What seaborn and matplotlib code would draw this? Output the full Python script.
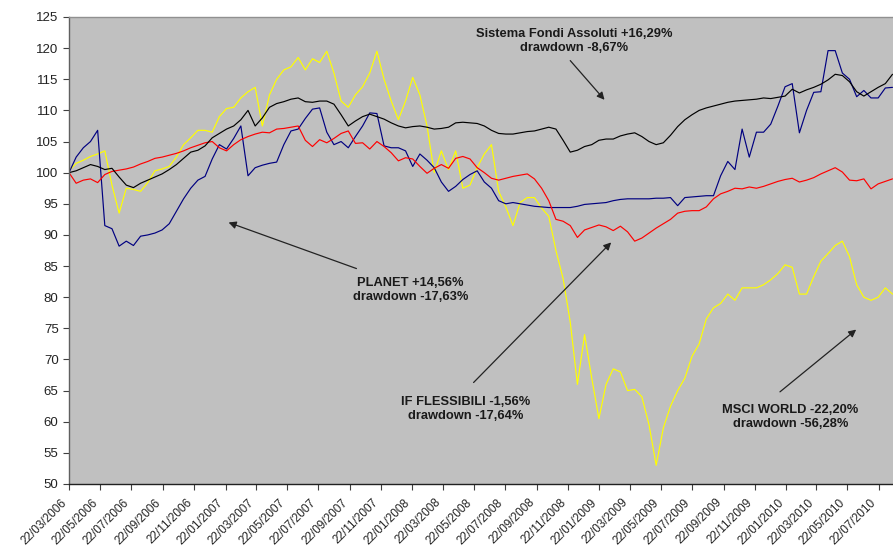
import pandas as pd
import numpy as np
import matplotlib
matplotlib.use('Agg')
import matplotlib.pyplot as plt
import matplotlib.dates as mdates
import matplotlib.transforms as mtransforms
import seaborn as sns

# Index values (base 100 on 22/03/2006), sampled every 14 days
dates = pd.date_range('2006-03-22', periods=116, freq='14D')

sistema_fondi = [
    100, 100.3, 100.8, 101.3, 101, 100.5, 100.7, 99.3, 98, 97.6,
    98.3, 98.8, 99.3, 99.8, 100.5, 101.3, 102.3, 103.3, 103.6, 104.3,
    105.6, 106.3, 107, 107.5, 108.5, 110, 107.5, 108.8, 110.5, 111.1,
    111.4, 111.8, 112, 111.4, 111.3, 111.5, 111.5, 111, 109.3, 107.5,
    108.3, 109, 109.4, 109, 108.6, 108, 107.5, 107.2, 107.4, 107.5,
    107.3, 107, 107.1, 107.3, 108, 108.1, 108, 107.9, 107.5, 106.8,
    106.3, 106.2, 106.2, 106.4, 106.6, 106.7, 107, 107.3, 107, 105.2,
    103.3, 103.6, 104.2, 104.5, 105.2, 105.4, 105.4, 105.9, 106.2, 106.4,
    105.8, 105, 104.5, 104.8, 106, 107.4, 108.5, 109.3, 110, 110.4,
    110.7, 111, 111.3, 111.5, 111.6, 111.7, 111.8, 112, 111.9, 112.1,
    112.3, 113.4, 112.8, 113.3, 113.7, 114.2, 114.9, 115.8, 115.6, 114.6,
    113, 112.3, 113, 113.7, 114.3, 115.8,
]

planet = [
    100, 102.5, 104, 105, 106.8, 91.5, 91, 88.2, 89, 88.3,
    89.8, 90, 90.3, 90.8, 91.8, 93.8, 95.8, 97.5, 98.8, 99.4,
    102.2, 104.5, 103.8, 105.5, 107.5, 99.5, 100.8, 101.2, 101.5, 101.7,
    104.5, 106.7, 107, 108.7, 110.2, 110.4, 106.5, 104.5, 105, 104,
    105.8, 107.5, 109.6, 109.5, 104.3, 104, 104, 103.5, 101, 103,
    102, 100.8, 98.5, 97, 97.8, 98.9, 99.7, 100.3, 98.5, 97.5,
    95.5, 95, 95.2, 95, 94.8, 94.6, 94.5, 94.4, 94.4, 94.4,
    94.4, 94.6, 94.9, 95, 95.1, 95.2, 95.5, 95.7, 95.8, 95.8,
    95.8, 95.8, 95.9, 95.9, 96, 94.7, 96, 96.1, 96.2, 96.3,
    96.3, 99.5, 101.8, 100.5, 107, 102.5, 106.5, 106.5, 107.8, 110.7,
    113.8, 114.3, 106.4, 110, 112.9, 113, 119.6, 119.6, 116, 115,
    112.2, 113.2, 112, 112, 113.6, 113.7,
]

if_flessibili = [
    100, 98.3, 98.8, 99, 98.4, 99.7, 100.2, 100.4, 100.6, 100.9,
    101.4, 101.8, 102.3, 102.5, 102.8, 103.1, 103.5, 104, 104.4, 104.8,
    105, 104, 103.5, 104.5, 105.3, 105.8, 106.2, 106.5, 106.4, 107,
    107.1, 107.3, 107.5, 105.2, 104.2, 105.3, 104.8, 105.5, 106.3, 106.7,
    104.7, 104.8, 103.8, 105, 104.2, 103.2, 101.9, 102.4, 102.2, 101,
    99.9, 100.7, 101.3, 100.7, 102.3, 102.6, 102.2, 100.8, 100, 99.1,
    98.8, 99.1, 99.4, 99.6, 99.8, 99, 97.5, 95.5, 92.5, 92.2,
    91.5, 89.6, 90.8, 91.2, 91.6, 91.3, 90.7, 91.4, 90.5, 89,
    89.5, 90.3, 91.1, 91.8, 92.5, 93.5, 93.8, 93.9, 93.9, 94.5,
    95.8, 96.6, 97, 97.5, 97.4, 97.7, 97.5, 97.8, 98.2, 98.6,
    98.9, 99.1, 98.5, 98.8, 99.2, 99.8, 100.3, 100.8, 100.1, 98.8,
    98.7, 99, 97.4, 98.2, 98.6, 99,
]

msci_world = [
    100.3, 101.5, 102, 102.6, 103, 103.5, 98, 93.5, 97.5, 97.3,
    97, 98.4, 100.3, 100.6, 101, 102.5, 104.5, 105.6, 106.8, 106.8,
    106.5, 109, 110.3, 110.5, 112, 113, 113.7, 107.5, 112.5, 115,
    116.5, 117, 118.5, 116.5, 118.3, 117.7, 119.5, 116, 111.5, 110.5,
    112.5, 113.8, 116, 119.5, 115, 111.5, 108.5, 111.5, 115.3, 112.5,
    107.5, 100, 103.5, 100.5, 103.5, 97.5, 98, 100.8, 103, 104.5,
    97, 94.5, 91.5, 95.2, 96, 96, 94.3, 93, 87.5, 83,
    76, 66, 74, 67, 60.5, 66, 68.5, 68, 65, 65.2,
    64, 59.5, 53, 59, 62.5, 65, 67, 70.5, 72.5, 76.5,
    78.3, 79, 80.5, 79.5, 81.5, 81.5, 81.5, 82, 82.8, 83.8,
    85.2, 84.8, 80.5, 80.5, 83.3, 85.8, 87, 88.3, 89, 86.5,
    82, 80, 79.5, 80, 81.5, 80.5,
]

series_names = ['MSCI WORLD', 'PLANET', 'IF FLESSIBILI', 'Sistema Fondi Assoluti']
series_colors = ['#ffff00', '#000080', '#ff0000', '#000000']

df = pd.DataFrame({
    'date': dates,
    'MSCI WORLD': msci_world,
    'PLANET': planet,
    'IF FLESSIBILI': if_flessibili,
    'Sistema Fondi Assoluti': sistema_fondi,
})
long_df = df.melt(id_vars='date', var_name='serie', value_name='valore')

sns.set_style('ticks')
plt.rcParams['font.family'] = ['Liberation Sans', 'DejaVu Sans']

fig = plt.figure(figsize=(8.93, 5.47), dpi=100)
ax = fig.add_axes([69 / 893, 63 / 547, 824 / 893, 467 / 547])
ax.set_facecolor('#c0c0c0')

sns.lineplot(data=long_df, x='date', y='valore', hue='serie',
             hue_order=series_names, palette=dict(zip(series_names, series_colors)),
             linewidth=0.85, legend=False, ax=ax)

ax.set_ylim(50, 125)
ax.set_yticks(np.arange(50, 126, 5))
ax.set_xlim(pd.Timestamp('2006-03-22'), pd.Timestamp('2010-08-19'))
ax.xaxis.set_major_locator(mdates.MonthLocator(bymonth=(1, 3, 5, 7, 9, 11), bymonthday=22))
ax.xaxis.set_major_formatter(mdates.DateFormatter('%d/%m/%Y'))
ax.set_xlabel('')
ax.set_ylabel('')

ax.tick_params(axis='both', direction='out', length=4, width=0.8,
               labelsize=9.5, labelcolor='#222222', color='#404040')
ax.tick_params(axis='x', labelsize=8.5)
shift = mtransforms.ScaledTranslation(-6 / 72, -1.5 / 72, fig.dpi_scale_trans)
for lab in ax.get_xticklabels():
    lab.set_rotation(45)
    lab.set_ha('right')
    lab.set_rotation_mode('anchor')
    lab.set_transform(lab.get_transform() + shift)

ax.spines['right'].set_visible(False)
ax.spines['top'].set_color('#909090')
ax.spines['left'].set_color('#606060')
ax.spines['bottom'].set_color('#202020')
for s in ['top', 'left', 'bottom']:
    ax.spines[s].set_linewidth(1.0)

# annotations with arrows
text_kw = dict(ha='center', va='center', fontsize=9.3, fontweight='bold',
               color='#1a1a1a', linespacing=1.25)
arrow_kw = dict(arrowstyle='-|>', color='#222222', lw=0.9, mutation_scale=11,
                shrinkA=0, shrinkB=0)

ax.text(pd.Timestamp('2008-12-04'), 121.2,
        'Sistema Fondi Assoluti +16,29%\ndrawdown -8,67%', **text_kw)
ax.annotate('', xy=(pd.Timestamp('2009-02-01'), 111.7),
            xytext=(pd.Timestamp('2008-11-26'), 118.0), arrowprops=arrow_kw)

ax.text(pd.Timestamp('2008-01-19'), 81.1,
        'PLANET +14,56%\ndrawdown -17,63%', **text_kw)
ax.annotate('', xy=(pd.Timestamp('2007-01-28'), 92.0),
            xytext=(pd.Timestamp('2007-10-05'), 84.6), arrowprops=arrow_kw)

ax.text(pd.Timestamp('2008-05-05'), 62.1,
        'IF FLESSIBILI -1,56%\ndrawdown -17,64%', **text_kw)
ax.annotate('', xy=(pd.Timestamp('2009-02-14'), 88.8),
            xytext=(pd.Timestamp('2008-05-21'), 66.3), arrowprops=arrow_kw)

ax.text(pd.Timestamp('2010-01-30'), 60.8,
        'MSCI WORLD -22,20%\ndrawdown -56,28%', **text_kw)
ax.annotate('', xy=(pd.Timestamp('2010-06-08'), 74.8),
            xytext=(pd.Timestamp('2010-01-10'), 64.8), arrowprops=arrow_kw)

fig.savefig('out.png', dpi=100)
plt.close(fig)
